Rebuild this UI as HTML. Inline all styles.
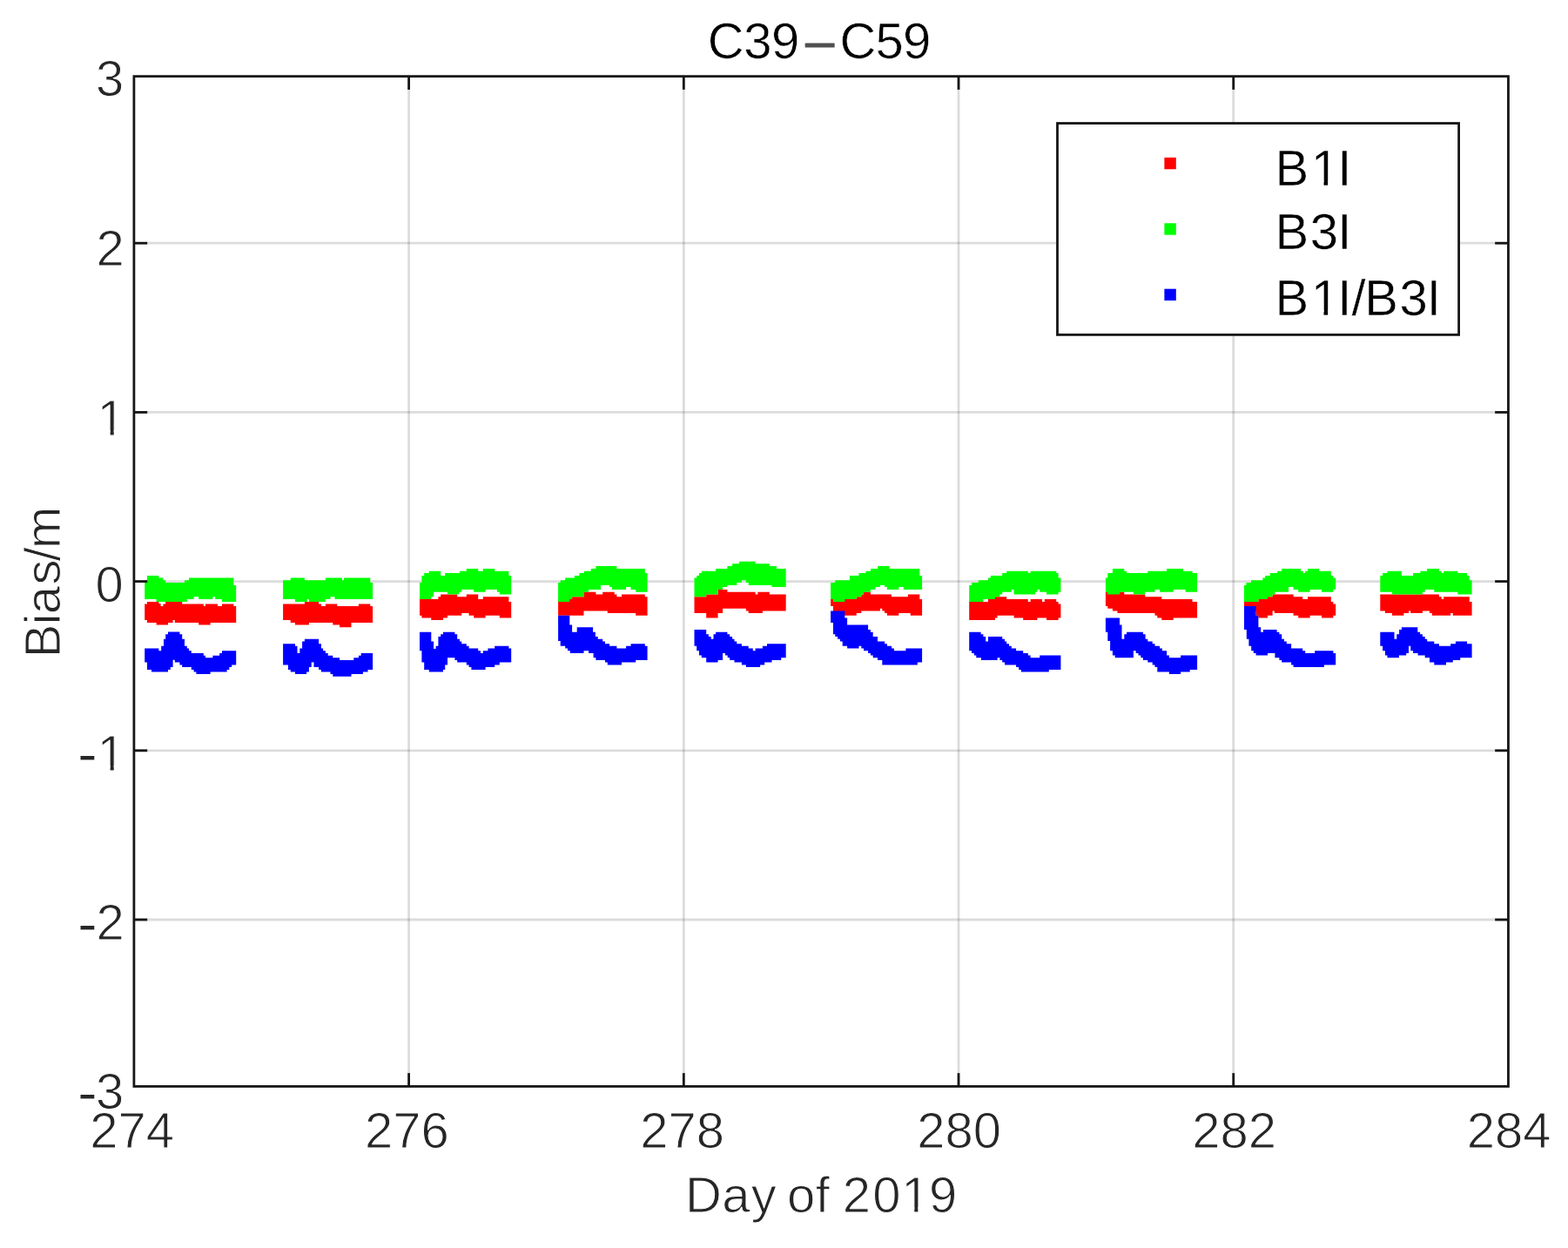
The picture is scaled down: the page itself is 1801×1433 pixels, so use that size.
<!DOCTYPE html>
<html lang="en"><head><meta charset="utf-8"><title>C39-C59</title>
<style>html,body{margin:0;padding:0;background:#fff;}body{width:1801px;height:1433px;overflow:hidden;}svg{display:block;}text{font-family:"Liberation Sans",Arial,Helvetica,sans-serif;white-space:pre;stroke:#fff;stroke-width:1.00px;stroke-linejoin:round;}</style>
</head><body>
<svg width="1801" height="1433" viewBox="0 0 1801 1433">
<rect x="0" y="0" width="1801" height="1433" fill="#ffffff"/>
<g stroke="rgba(38,38,38,0.16)" stroke-width="2.80" fill="none">
<line x1="469.61" y1="87.65" x2="469.61" y2="1247.45"/>
<line x1="785.32" y1="87.65" x2="785.32" y2="1247.45"/>
<line x1="1101.03" y1="87.65" x2="1101.03" y2="1247.45"/>
<line x1="1416.74" y1="87.65" x2="1416.74" y2="1247.45"/>
<line x1="153.90" y1="279.20" x2="1732.45" y2="279.20"/>
<line x1="153.90" y1="473.40" x2="1732.45" y2="473.40"/>
<line x1="153.90" y1="667.60" x2="1732.45" y2="667.60"/>
<line x1="153.90" y1="861.80" x2="1732.45" y2="861.80"/>
<line x1="153.90" y1="1056.00" x2="1732.45" y2="1056.00"/>
</g>
<g>
<path fill="#ff0000" d="M166.2,693.4L169.0,693.4L169.0,690.9L182.4,690.9L182.4,693.1L184.6,693.1L184.6,695.9L187.4,695.9L187.4,693.4L190.2,693.4L190.2,690.9L209.2,690.9L209.2,693.4L233.8,693.4L233.8,695.9L236.0,695.9L236.0,693.4L250.0,693.4L250.0,695.9L255.0,695.9L255.0,693.4L268.4,693.4L268.4,695.9L271.2,695.9L271.2,714.9L241.6,714.9L241.6,717.6L228.2,717.6L228.2,714.9L200.8,714.9L200.8,712.1L198.6,712.1L198.6,714.9L193.0,714.9L193.0,717.6L179.6,717.6L179.6,714.9L169.0,714.9L169.0,712.1L166.2,712.1Z M325.1,693.4L349.9,693.4L349.9,690.9L366.1,690.9L366.1,693.4L368.9,693.4L368.9,695.9L373.9,695.9L373.9,693.4L387.3,693.4L387.3,695.9L411.9,695.9L411.9,693.4L425.3,693.4L425.3,695.9L428.1,695.9L428.1,714.9L403.5,714.9L403.5,720.2L390.1,720.2L390.1,717.6L382.3,717.6L382.3,714.9L354.9,714.9L354.9,717.6L339.0,717.6L339.0,714.9L333.7,714.9L333.7,712.1L325.1,712.1Z M482.0,688.1L503.4,688.1L503.4,685.3L506.2,685.3L506.2,682.5L525.2,682.5L525.2,685.3L535.8,685.3L535.8,682.5L549.2,682.5L549.2,688.1L554.8,688.1L554.8,685.3L584.4,685.3L584.4,690.9L587.2,690.9L587.2,709.5L573.8,709.5L573.8,706.8L557.6,706.8L557.6,709.5L544.2,709.5L544.2,706.8L538.6,706.8L538.6,704.0L530.2,704.0L530.2,706.8L514.0,706.8L514.0,709.5L509.0,709.5L509.0,712.1L495.3,712.1L495.3,709.5L484.4,709.5L484.4,706.8L482.0,706.8Z M641.1,688.1L654.3,688.1L654.3,688.1L657.1,688.1L657.1,685.3L671.0,685.3L671.0,679.7L684.4,679.7L684.4,682.5L692.2,682.5L692.2,679.7L705.7,679.7L705.7,682.5L708.4,682.5L708.4,685.3L714.0,685.3L714.0,682.5L740.8,682.5L740.8,685.3L743.6,685.3L743.6,706.8L730.2,706.8L730.2,704.0L697.8,704.0L697.8,701.5L670.5,701.5L670.5,706.8L641.1,706.8Z M797.5,685.3L811.2,685.3L811.2,682.5L824.6,682.5L824.6,676.9L835.4,676.9L835.4,679.7L867.6,679.7L867.6,682.5L870.4,682.5L870.4,679.7L883.8,679.7L883.8,682.5L902.7,682.5L902.7,701.5L875.9,701.5L875.9,704.0L859.7,704.0L859.7,701.5L856.9,701.5L856.9,698.7L830.1,698.7L830.1,704.0L824.6,704.0L824.6,709.5L811.2,709.5L811.2,704.0L797.5,704.0Z M954.1,688.1L956.9,688.1L956.9,688.1L970.3,688.1L970.3,688.1L983.7,688.1L983.7,685.3L989.3,685.3L989.3,682.5L992.1,682.5L992.1,679.7L999.9,679.7L999.9,682.5L1023.9,682.5L1023.9,685.3L1042.9,685.3L1042.9,682.5L1056.3,682.5L1056.3,688.1L1059.1,688.1L1059.1,706.8L1045.7,706.8L1045.7,704.0L1032.3,704.0L1032.3,706.8L1018.9,706.8L1018.9,704.0L1016.1,704.0L1016.1,701.5L1013.3,701.5L1013.3,698.7L1011.0,698.7L1011.0,701.5L989.3,701.5L989.3,704.0L983.7,704.0L983.7,706.8L970.3,706.8L970.3,706.8L956.9,706.8L956.9,695.9L954.1,695.9Z M1113.2,690.9L1135.0,690.9L1135.0,688.1L1143.0,688.1L1143.0,685.3L1156.2,685.3L1156.2,688.1L1180.8,688.1L1180.8,690.9L1183.6,690.9L1183.6,688.1L1197.0,688.1L1197.0,690.9L1199.8,690.9L1199.8,688.1L1213.2,688.1L1213.2,690.9L1215.6,690.9L1215.6,693.4L1218.4,693.4L1218.4,709.5L1215.6,709.5L1215.6,712.1L1202.0,712.1L1202.0,709.5L1191.4,709.5L1191.4,712.1L1175.2,712.1L1175.2,709.5L1164.6,709.5L1164.6,706.8L1145.6,706.8L1145.6,709.5L1143.0,709.5L1143.0,712.1L1113.2,712.1Z M1269.9,679.7L1272.3,679.7L1272.3,679.7L1286.3,679.7L1286.3,679.7L1291.3,679.7L1291.3,682.5L1315.3,682.5L1315.3,685.3L1334.3,685.3L1334.3,688.1L1369.5,688.1L1369.5,690.9L1375.1,690.9L1375.1,709.5L1347.7,709.5L1347.7,712.1L1334.3,712.1L1334.3,709.5L1329.3,709.5L1329.3,706.8L1326.5,706.8L1326.5,704.0L1283.5,704.0L1283.5,701.5L1277.9,701.5L1277.9,698.7L1272.3,698.7L1272.3,695.9L1269.9,695.9Z M1429.0,690.9L1445.4,690.9L1445.4,688.1L1456.0,688.1L1456.0,685.3L1461.6,685.3L1461.6,682.5L1485.6,682.5L1485.6,685.3L1496.2,685.3L1496.2,688.1L1502.0,688.1L1502.0,685.3L1528.8,685.3L1528.8,690.9L1531.4,690.9L1531.4,693.4L1534.2,693.4L1534.2,706.8L1531.4,706.8L1531.4,709.5L1518.0,709.5L1518.0,706.8L1504.6,706.8L1504.6,709.5L1491.2,709.5L1491.2,706.8L1485.6,706.8L1485.6,704.0L1463.8,704.0L1463.8,701.5L1461.6,701.5L1461.6,706.8L1456.0,706.8L1456.0,709.5L1445.4,709.5L1445.4,706.8L1442.6,706.8L1442.6,701.5L1429.0,701.5Z M1585.3,682.5L1652.9,682.5L1652.9,685.3L1655.7,685.3L1655.7,688.1L1658.2,688.1L1658.2,685.3L1687.8,685.3L1687.8,690.9L1690.6,690.9L1690.6,706.8L1668.8,706.8L1668.8,704.0L1666.1,704.0L1666.1,706.8L1644.8,706.8L1644.8,704.0L1642.0,704.0L1642.0,701.5L1633.9,701.5L1633.9,704.0L1620.3,704.0L1620.3,701.5L1618.0,701.5L1618.0,704.0L1612.4,704.0L1612.4,706.8L1599.0,706.8L1599.0,704.0L1590.9,704.0L1590.9,701.5L1585.3,701.5Z"/>
<path fill="#00ff00" d="M166.2,666.3L169.0,666.3L169.0,661.0L182.4,661.0L182.4,663.5L187.4,663.5L187.4,666.3L190.2,666.3L190.2,669.1L212.0,669.1L212.0,666.3L217.0,666.3L217.0,663.5L268.4,663.5L268.4,671.9L271.2,671.9L271.2,690.9L255.0,690.9L255.0,688.1L247.2,688.1L247.2,685.3L244.4,685.3L244.4,688.1L228.2,688.1L228.2,685.3L222.6,685.3L222.6,688.1L214.8,688.1L214.8,690.9L179.6,690.9L179.6,688.1L166.2,688.1Z M325.1,666.3L333.7,666.3L333.7,663.5L349.9,663.5L349.9,666.3L373.9,666.3L373.9,663.5L392.9,663.5L392.9,666.3L395.1,666.3L395.1,663.5L425.3,663.5L425.3,669.1L428.1,669.1L428.1,688.1L384.5,688.1L384.5,685.3L379.5,685.3L379.5,688.1L373.9,688.1L373.9,690.9L354.9,690.9L354.9,688.1L352.7,688.1L352.7,690.9L339.0,690.9L339.0,688.1L325.1,688.1Z M482.0,669.1L484.4,669.1L484.4,661.0L487.2,661.0L487.2,658.1L492.8,658.1L492.8,655.7L506.2,655.7L506.2,661.0L511.2,661.0L511.2,658.1L528.0,658.1L528.0,655.7L535.8,655.7L535.8,652.9L549.2,652.9L549.2,655.7L554.8,655.7L554.8,652.9L568.2,652.9L568.2,655.7L584.4,655.7L584.4,661.0L587.2,661.0L587.2,682.5L573.8,682.5L573.8,679.7L571.0,679.7L571.0,676.9L557.6,676.9L557.6,679.7L544.2,679.7L544.2,676.9L530.2,676.9L530.2,679.7L527.4,679.7L527.4,682.5L514.0,682.5L514.0,679.7L498.1,679.7L498.1,685.3L495.3,685.3L495.3,688.1L482.0,688.1Z M641.1,669.1L643.7,669.1L643.7,666.3L649.2,666.3L649.2,663.5L659.9,663.5L659.9,661.0L665.4,661.0L665.4,658.1L671.0,658.1L671.0,655.7L678.8,655.7L678.8,652.9L684.4,652.9L684.4,650.1L708.4,650.1L708.4,652.9L740.8,652.9L740.8,658.1L743.6,658.1L743.6,679.7L730.2,679.7L730.2,676.9L724.6,676.9L724.6,674.1L719.1,674.1L719.1,676.9L702.9,676.9L702.9,674.1L700.1,674.1L700.1,671.9L690.0,671.9L690.0,676.9L676.1,676.9L676.1,679.7L671.0,679.7L671.0,685.3L657.1,685.3L657.1,688.1L654.3,688.1L654.3,690.9L641.1,690.9Z M797.5,663.5L800.2,663.5L800.2,661.0L803.0,661.0L803.0,658.1L805.8,658.1L805.8,655.7L822.1,655.7L822.1,652.9L835.4,652.9L835.4,650.1L841.1,650.1L841.1,647.3L849.1,647.3L849.1,644.7L867.6,644.7L867.6,647.3L883.8,647.3L883.8,650.1L891.9,650.1L891.9,652.9L902.7,652.9L902.7,674.1L886.5,674.1L886.5,671.9L859.7,671.9L859.7,669.1L856.9,669.1L856.9,666.3L851.9,666.3L851.9,669.1L846.3,669.1L846.3,671.9L835.4,671.9L835.4,674.1L830.1,674.1L830.1,676.9L824.6,676.9L824.6,682.5L811.2,682.5L811.2,685.3L797.5,685.3Z M954.1,669.1L959.3,669.1L959.3,666.3L975.9,666.3L975.9,661.0L986.5,661.0L986.5,658.1L994.5,658.1L994.5,655.7L1000.1,655.7L1000.1,652.9L1008.2,652.9L1008.2,650.1L1021.7,650.1L1021.7,652.9L1056.3,652.9L1056.3,661.0L1059.1,661.0L1059.1,676.9L1037.8,676.9L1037.8,674.1L1032.3,674.1L1032.3,676.9L1018.9,676.9L1018.9,674.1L1016.1,674.1L1016.1,671.9L1011.0,671.9L1011.0,674.1L1005.5,674.1L1005.5,676.9L999.9,676.9L999.9,679.7L992.1,679.7L992.1,682.5L989.3,682.5L989.3,685.3L983.7,685.3L983.7,688.1L970.3,688.1L970.3,690.9L956.9,690.9L956.9,688.1L954.1,688.1Z M1113.2,671.9L1116.0,671.9L1116.0,669.1L1123.8,669.1L1123.8,666.3L1135.0,666.3L1135.0,663.5L1137.8,663.5L1137.8,661.0L1151.2,661.0L1151.2,658.1L1156.2,658.1L1156.2,655.7L1180.8,655.7L1180.8,658.1L1183.6,658.1L1183.6,655.7L1213.2,655.7L1213.2,658.1L1215.6,658.1L1215.6,663.5L1218.4,663.5L1218.4,679.7L1215.6,679.7L1215.6,682.5L1202.0,682.5L1202.0,679.7L1194.2,679.7L1194.2,676.9L1191.4,676.9L1191.4,679.7L1189.1,679.7L1189.1,682.5L1164.6,682.5L1164.6,676.9L1161.8,676.9L1161.8,679.7L1151.2,679.7L1151.2,682.5L1148.4,682.5L1148.4,685.3L1143.0,685.3L1143.0,688.1L1129.4,688.1L1129.4,690.9L1113.2,690.9Z M1269.9,663.5L1272.3,663.5L1272.3,658.1L1277.9,658.1L1277.9,652.9L1291.3,652.9L1291.3,655.7L1294.1,655.7L1294.1,658.1L1318.3,658.1L1318.3,655.7L1340.1,655.7L1340.1,652.9L1358.9,652.9L1358.9,655.7L1369.5,655.7L1369.5,658.1L1375.1,658.1L1375.1,679.7L1361.7,679.7L1361.7,676.9L1347.7,676.9L1347.7,679.7L1332.1,679.7L1332.1,676.9L1326.5,676.9L1326.5,679.7L1315.3,679.7L1315.3,682.5L1301.9,682.5L1301.9,679.7L1291.3,679.7L1291.3,679.7L1286.3,679.7L1286.3,682.5L1272.3,682.5L1272.3,679.7L1269.9,679.7Z M1429.0,671.9L1431.4,671.9L1431.4,669.1L1437.0,669.1L1437.0,666.3L1450.4,666.3L1450.4,663.5L1453.2,663.5L1453.2,661.0L1458.8,661.0L1458.8,658.1L1467.2,658.1L1467.2,655.7L1472.2,655.7L1472.2,652.9L1494.0,652.9L1494.0,655.7L1496.8,655.7L1496.8,658.1L1499.2,658.1L1499.2,655.7L1502.0,655.7L1502.0,652.9L1515.2,652.9L1515.2,655.7L1528.8,655.7L1528.8,661.0L1531.4,661.0L1531.4,663.5L1534.2,663.5L1534.2,676.9L1531.4,676.9L1531.4,679.7L1518.0,679.7L1518.0,676.9L1504.6,676.9L1504.6,679.7L1491.2,679.7L1491.2,676.9L1485.6,676.9L1485.6,674.1L1480.0,674.1L1480.0,679.7L1464.4,679.7L1464.4,682.5L1461.6,682.5L1461.6,685.3L1456.0,685.3L1456.0,688.1L1445.4,688.1L1445.4,690.9L1429.0,690.9Z M1585.3,661.0L1588.1,661.0L1588.1,658.1L1593.5,658.1L1593.5,655.7L1609.9,655.7L1609.9,661.0L1623.1,661.0L1623.1,658.1L1631.4,658.1L1631.4,655.7L1639.2,655.7L1639.2,652.9L1652.9,652.9L1652.9,655.7L1655.7,655.7L1655.7,658.1L1658.2,658.1L1658.2,655.7L1674.4,655.7L1674.4,658.1L1685.0,658.1L1685.0,661.0L1687.8,661.0L1687.8,666.3L1690.6,666.3L1690.6,682.5L1674.4,682.5L1674.4,679.7L1647.3,679.7L1647.3,676.9L1636.7,676.9L1636.7,679.7L1633.9,679.7L1633.9,682.5L1599.0,682.5L1599.0,679.7L1585.3,679.7Z"/>
<path fill="#0000ff" d="M166.2,744.4L182.4,744.4L182.4,747.2L185.2,747.2L185.2,741.7L188.0,741.7L188.0,733.8L190.2,733.8L190.2,728.3L193.0,728.3L193.0,725.5L206.4,725.5L206.4,728.3L209.2,728.3L209.2,733.8L212.0,733.8L212.0,741.7L214.8,741.7L214.8,744.4L217.0,744.4L217.0,747.2L219.8,747.2L219.8,750.0L233.8,750.0L233.8,752.8L236.0,752.8L236.0,755.3L244.4,755.3L244.4,752.8L252.2,752.8L252.2,750.0L255.0,750.0L255.0,747.2L271.2,747.2L271.2,763.4L266.2,763.4L266.2,766.0L263.4,766.0L263.4,769.0L260.6,769.0L260.6,771.6L241.6,771.6L241.6,774.0L225.4,774.0L225.4,771.6L222.6,771.6L222.6,769.0L219.8,769.0L219.8,766.0L209.2,766.0L209.2,763.4L206.4,763.4L206.4,760.6L200.8,760.6L200.8,757.8L198.6,757.8L198.6,766.0L195.8,766.0L195.8,769.0L193.0,769.0L193.0,771.6L174.0,771.6L174.0,769.0L169.0,769.0L169.0,760.6L166.2,760.6Z M325.1,739.2L339.0,739.2L339.0,741.7L341.5,741.7L341.5,750.0L344.3,750.0L344.3,744.4L347.1,744.4L347.1,736.6L349.9,736.6L349.9,733.8L366.1,733.8L366.1,739.2L368.9,739.2L368.9,744.4L371.1,744.4L371.1,747.2L373.9,747.2L373.9,750.0L376.7,750.0L376.7,752.8L382.3,752.8L382.3,755.3L390.1,755.3L390.1,758.1L406.3,758.1L406.3,755.3L411.9,755.3L411.9,752.8L414.7,752.8L414.7,750.0L428.1,750.0L428.1,769.0L422.5,769.0L422.5,771.6L416.9,771.6L416.9,774.0L403.5,774.0L403.5,776.8L382.3,776.8L382.3,774.0L379.5,774.0L379.5,771.6L368.9,771.6L368.9,769.0L366.1,769.0L366.1,766.0L360.5,766.0L360.5,760.6L357.7,760.6L357.7,766.0L354.9,766.0L354.9,771.6L352.1,771.6L352.1,774.0L339.0,774.0L339.0,771.6L333.7,771.6L333.7,769.0L330.9,769.0L330.9,763.4L325.1,763.4Z M482.0,725.7L495.3,725.7L495.3,736.6L498.1,736.6L498.1,745.0L500.6,745.0L500.6,741.7L503.4,741.7L503.4,731.0L506.2,731.0L506.2,728.3L509.0,728.3L509.0,725.7L522.4,725.7L522.4,728.3L525.2,728.3L525.2,733.8L528.0,733.8L528.0,736.6L530.2,736.6L530.2,739.2L535.8,739.2L535.8,741.7L538.6,741.7L538.6,744.4L549.2,744.4L549.2,747.2L552.0,747.2L552.0,750.0L554.8,750.0L554.8,747.2L560.4,747.2L560.4,744.4L568.2,744.4L568.2,741.7L584.4,741.7L584.4,744.4L587.2,744.4L587.2,760.6L573.8,760.6L573.8,763.4L568.2,763.4L568.2,766.0L557.6,766.0L557.6,769.0L541.4,769.0L541.4,766.0L538.6,766.0L538.6,763.4L535.8,763.4L535.8,760.6L525.2,760.6L525.2,758.1L522.4,758.1L522.4,755.3L514.0,755.3L514.0,763.4L511.2,763.4L511.2,769.0L509.0,769.0L509.0,771.6L492.8,771.6L492.8,769.0L487.2,769.0L487.2,760.6L484.4,760.6L484.4,747.2L482.0,747.2Z M641.1,706.8L654.3,706.8L654.3,717.6L657.1,717.6L657.1,725.7L662.7,725.7L662.7,720.2L681.1,720.2L681.1,725.7L683.9,725.7L683.9,731.0L686.7,731.0L686.7,733.8L692.2,733.8L692.2,736.6L695.0,736.6L695.0,739.2L700.1,739.2L700.1,741.7L708.4,741.7L708.4,744.4L719.1,744.4L719.1,741.7L724.6,741.7L724.6,739.2L740.8,739.2L740.8,741.7L743.6,741.7L743.6,758.1L730.2,758.1L730.2,760.6L714.0,760.6L714.0,763.4L697.8,763.4L697.8,760.6L695.0,760.6L695.0,758.1L684.4,758.1L684.4,755.3L681.6,755.3L681.6,750.0L676.1,750.0L676.1,747.2L670.5,747.2L670.5,750.0L654.8,750.0L654.8,747.2L652.0,747.2L652.0,744.4L649.2,744.4L649.2,741.7L643.7,741.7L643.7,736.1L641.1,736.1Z M797.5,722.9L811.2,722.9L811.2,728.3L813.9,728.3L813.9,731.0L816.7,731.0L816.7,733.8L819.5,733.8L819.5,728.3L822.1,728.3L822.1,725.7L835.4,725.7L835.4,728.3L838.2,728.3L838.2,731.0L841.1,731.0L841.1,733.8L843.5,733.8L843.5,736.6L846.3,736.6L846.3,739.2L851.9,739.2L851.9,741.7L859.7,741.7L859.7,744.4L864.8,744.4L864.8,747.2L867.6,747.2L867.6,744.4L875.9,744.4L875.9,741.7L881.0,741.7L881.0,739.2L902.7,739.2L902.7,755.3L897.2,755.3L897.2,758.1L886.5,758.1L886.5,760.6L878.2,760.6L878.2,763.4L873.1,763.4L873.1,766.0L856.9,766.0L856.9,763.4L851.9,763.4L851.9,760.6L843.5,760.6L843.5,758.1L838.2,758.1L838.2,755.3L835.7,755.3L835.7,752.6L832.9,752.6L832.9,750.0L830.1,750.0L830.1,758.1L824.6,758.1L824.6,760.6L811.2,760.6L811.2,755.3L805.8,755.3L805.8,752.6L803.0,752.6L803.0,747.2L800.2,747.2L800.2,741.7L797.5,741.7Z M954.1,701.5L970.3,701.5L970.3,709.5L973.1,709.5L973.1,717.6L997.1,717.6L997.1,722.9L999.9,722.9L999.9,725.7L1002.7,725.7L1002.7,731.0L1008.0,731.0L1008.0,736.6L1016.1,736.6L1016.1,739.2L1018.9,739.2L1018.9,741.7L1024.1,741.7L1024.1,744.4L1026.9,744.4L1026.9,747.2L1040.4,747.2L1040.4,744.4L1059.1,744.4L1059.1,760.6L1053.8,760.6L1053.8,763.4L1013.3,763.4L1013.3,758.1L1008.0,758.1L1008.0,755.3L1002.7,755.3L1002.7,752.6L999.9,752.6L999.9,750.0L997.1,750.0L997.1,747.2L992.1,747.2L992.1,744.4L989.3,744.4L989.3,741.7L986.5,741.7L986.5,744.4L973.1,744.4L973.1,741.7L967.7,741.7L967.7,736.6L964.9,736.6L964.9,733.8L962.1,733.8L962.1,731.0L959.3,731.0L959.3,728.3L956.9,728.3L956.9,714.9L954.1,714.9Z M1113.2,725.7L1126.6,725.7L1126.6,728.3L1129.4,728.3L1129.4,731.0L1132.2,731.0L1132.2,736.6L1135.0,736.6L1135.0,731.0L1151.2,731.0L1151.2,733.8L1154.0,733.8L1154.0,736.6L1156.2,736.6L1156.2,739.2L1159.0,739.2L1159.0,741.7L1161.8,741.7L1161.8,744.4L1167.1,744.4L1167.1,747.2L1175.2,747.2L1175.2,750.0L1180.8,750.0L1180.8,752.6L1183.6,752.6L1183.6,755.3L1194.2,755.3L1194.2,752.6L1218.4,752.6L1218.4,769.0L1204.8,769.0L1204.8,771.6L1172.9,771.6L1172.9,769.0L1170.2,769.0L1170.2,766.0L1167.1,766.0L1167.1,763.4L1154.0,763.4L1154.0,760.6L1151.2,760.6L1151.2,758.1L1148.4,758.1L1148.4,755.3L1145.6,755.3L1145.6,758.1L1126.9,758.1L1126.9,755.3L1121.3,755.3L1121.3,752.6L1118.8,752.6L1118.8,750.0L1116.0,750.0L1116.0,747.2L1113.2,747.2Z M1269.9,709.5L1286.0,709.5L1286.0,717.6L1288.5,717.6L1288.5,733.8L1291.3,733.8L1291.3,728.3L1294.1,728.3L1294.1,725.7L1312.9,725.7L1312.9,728.3L1315.6,728.3L1315.6,733.8L1318.3,733.8L1318.3,736.6L1323.7,736.6L1323.7,739.2L1326.5,739.2L1326.5,741.7L1332.1,741.7L1332.1,744.4L1334.9,744.4L1334.9,747.2L1340.1,747.2L1340.1,752.6L1342.9,752.6L1342.9,755.3L1356.1,755.3L1356.1,752.6L1375.1,752.6L1375.1,769.0L1366.7,769.0L1366.7,771.6L1356.1,771.6L1356.1,774.0L1342.9,774.0L1342.9,771.6L1329.3,771.6L1329.3,766.0L1326.5,766.0L1326.5,763.4L1323.7,763.4L1323.7,760.6L1318.3,760.6L1318.3,758.1L1312.9,758.1L1312.9,755.3L1310.3,755.3L1310.3,752.6L1307.5,752.6L1307.5,750.0L1304.7,750.0L1304.7,747.2L1301.9,747.2L1301.9,755.3L1280.7,755.3L1280.7,752.6L1277.9,752.6L1277.9,747.2L1275.1,747.2L1275.1,736.1L1272.3,736.1L1272.3,725.7L1269.9,725.7Z M1429.0,695.9L1442.6,695.9L1442.6,706.8L1445.4,706.8L1445.4,720.2L1448.2,720.2L1448.2,725.7L1451.0,725.7L1451.0,722.9L1466.6,722.9L1466.6,725.7L1469.4,725.7L1469.4,728.3L1472.2,728.3L1472.2,733.8L1475.0,733.8L1475.0,736.6L1477.8,736.6L1477.8,739.2L1483.1,739.2L1483.1,744.4L1496.2,744.4L1496.2,747.2L1499.2,747.2L1499.2,750.0L1510.2,750.0L1510.2,747.2L1531.4,747.2L1531.4,750.0L1534.2,750.0L1534.2,763.4L1520.8,763.4L1520.8,766.0L1485.6,766.0L1485.6,763.4L1483.1,763.4L1483.1,760.6L1472.2,760.6L1472.2,758.1L1469.4,758.1L1469.4,755.3L1464.4,755.3L1464.4,750.0L1456.0,750.0L1456.0,752.6L1442.6,752.6L1442.6,750.0L1439.8,750.0L1439.8,747.2L1437.2,747.2L1437.2,741.7L1434.4,741.7L1434.4,733.8L1431.8,733.8L1431.8,722.9L1429.0,722.9Z M1585.3,725.7L1601.5,725.7L1601.5,733.8L1604.3,733.8L1604.3,728.3L1607.1,728.3L1607.1,722.9L1609.9,722.9L1609.9,720.2L1628.3,720.2L1628.3,725.7L1631.1,725.7L1631.1,728.3L1633.9,728.3L1633.9,731.0L1636.7,731.0L1636.7,733.8L1639.2,733.8L1639.2,736.6L1647.3,736.6L1647.3,739.2L1652.9,739.2L1652.9,741.7L1666.1,741.7L1666.1,739.2L1671.9,739.2L1671.9,736.6L1685.0,736.6L1685.0,739.2L1690.6,739.2L1690.6,755.3L1677.2,755.3L1677.2,758.1L1668.8,758.1L1668.8,760.6L1661.0,760.6L1661.0,763.4L1647.3,763.4L1647.3,760.6L1642.0,760.6L1642.0,755.3L1636.7,755.3L1636.7,752.6L1628.6,752.6L1628.6,750.0L1623.1,750.0L1623.1,747.2L1620.3,747.2L1620.3,741.7L1618.0,741.7L1618.0,750.0L1615.2,750.0L1615.2,752.6L1606.9,752.6L1606.9,755.3L1593.5,755.3L1593.5,752.6L1590.9,752.6L1590.9,747.2L1588.1,747.2L1588.1,741.7L1585.3,741.7Z"/>
</g>
<g stroke="#161616" stroke-width="2.80" fill="none" stroke-linecap="butt">
<rect x="153.90" y="87.65" width="1578.55" height="1159.80"/>
<line x1="469.61" y1="1247.45" x2="469.61" y2="1232.15"/>
<line x1="469.61" y1="87.65" x2="469.61" y2="102.95"/>
<line x1="785.32" y1="1247.45" x2="785.32" y2="1232.15"/>
<line x1="785.32" y1="87.65" x2="785.32" y2="102.95"/>
<line x1="1101.03" y1="1247.45" x2="1101.03" y2="1232.15"/>
<line x1="1101.03" y1="87.65" x2="1101.03" y2="102.95"/>
<line x1="1416.74" y1="1247.45" x2="1416.74" y2="1232.15"/>
<line x1="1416.74" y1="87.65" x2="1416.74" y2="102.95"/>
<line x1="153.90" y1="279.20" x2="169.20" y2="279.20"/>
<line x1="1732.45" y1="279.20" x2="1717.15" y2="279.20"/>
<line x1="153.90" y1="473.40" x2="169.20" y2="473.40"/>
<line x1="1732.45" y1="473.40" x2="1717.15" y2="473.40"/>
<line x1="153.90" y1="667.60" x2="169.20" y2="667.60"/>
<line x1="1732.45" y1="667.60" x2="1717.15" y2="667.60"/>
<line x1="153.90" y1="861.80" x2="169.20" y2="861.80"/>
<line x1="1732.45" y1="861.80" x2="1717.15" y2="861.80"/>
<line x1="153.90" y1="1056.00" x2="169.20" y2="1056.00"/>
<line x1="1732.45" y1="1056.00" x2="1717.15" y2="1056.00"/>
</g>
<text x="103.21 135.47 167.73" y="1318.40" font-size="58.00" fill="#262626">274</text>
<text x="418.92 451.18 483.44" y="1318.40" font-size="58.00" fill="#262626">276</text>
<text x="735.13 767.39 799.65" y="1318.40" font-size="58.00" fill="#262626">278</text>
<text x="1053.34 1085.60 1117.86" y="1318.40" font-size="58.00" fill="#262626">280</text>
<text x="1369.25 1401.51 1433.77" y="1318.40" font-size="58.00" fill="#262626">282</text>
<text x="1684.76 1717.02 1749.28" y="1318.40" font-size="58.00" fill="#262626">284</text>
<text x="110.04" y="110.30" font-size="58.00" fill="#262626">3</text>
<text x="110.44" y="305.30" font-size="58.00" fill="#262626">2</text>
<text x="111.54" y="499.70" font-size="58.00" fill="#262626">1</text><rect x="114.16" y="494.07" width="12.47" height="6.63" fill="#fff"/><rect x="130.75" y="494.07" width="12.01" height="6.63" fill="#fff"/>
<text x="109.54" y="691.40" font-size="58.00" fill="#262626">0</text>
<text fill="#262626"><tspan x="88.69" y="889.10" font-size="70.00" style="stroke-width:1.2px">-</tspan><tspan x="111.54" y="884.50" font-size="58.00">1</tspan></text>
<rect x="114.16" y="878.87" width="12.47" height="6.63" fill="#fff"/><rect x="130.75" y="878.87" width="12.01" height="6.63" fill="#fff"/>
<text fill="#262626"><tspan x="88.69" y="1083.70" font-size="70.00" style="stroke-width:1.2px">-</tspan><tspan x="110.44" y="1079.10" font-size="58.00">2</tspan></text>
<text fill="#262626"><tspan x="88.69" y="1277.80" font-size="70.00" style="stroke-width:1.2px">-</tspan><tspan x="110.04" y="1273.20" font-size="58.00">3</tspan></text>
<text x="787.04 829.24 862.66 890.00 904.06 936.78 890.00 967.68 1002.33 1035.18 1066.98" y="1391.80" font-size="58.00" fill="#262626">Day of 2019</text><rect x="1037.80" y="1386.17" width="12.47" height="6.63" fill="#fff"/><rect x="1054.39" y="1386.17" width="12.01" height="6.63" fill="#fff"/>
<g transform="translate(69.30,668.00) rotate(-90)"><text x="-87.13 -49.34 -37.36 -3.60 23.40 37.92" y="0.00" font-size="58.00" fill="#262626">Bias/m</text></g>
<text y="66.90" font-size="58.00" fill="#000000" style="stroke-width:0.60px"><tspan x="812.75 854.29 886.08">C39</tspan><tspan x="925.20" y="66.60" font-size="59.00" fill="#505050" style="stroke:#505050;stroke-width:1.2px">–</tspan><tspan x="964.45 1005.48 1036.98" y="66.90">C59</tspan></text>
<rect x="1214.50" y="141.55" width="461.10" height="242.85" fill="#ffffff" stroke="#161616" stroke-width="2.80"/>
<rect x="1337.40" y="180.90" width="13.4" height="13.4" fill="#ff0000"/>
<text x="1464.44 1505.70 1536.35" y="213.30" font-size="58.00" fill="#000000" style="stroke-width:0.50px">B1I</text><rect x="1508.57" y="207.92" width="11.97" height="6.13" fill="#fff"/><rect x="1525.16" y="207.92" width="11.51" height="6.13" fill="#fff"/>
<rect x="1337.40" y="256.30" width="13.4" height="13.4" fill="#00ff00"/>
<text x="1464.44 1504.69 1536.35" y="285.80" font-size="58.00" fill="#000000" style="stroke-width:0.50px">B3I</text>
<rect x="1337.40" y="331.70" width="13.4" height="13.4" fill="#0000ff"/>
<text x="1464.44 1505.70 1536.35 1552.60 1567.14 1607.39 1638.75" y="361.50" font-size="58.00" fill="#000000" style="stroke-width:0.50px">B1I/B3I</text><rect x="1508.57" y="356.12" width="11.97" height="6.13" fill="#fff"/><rect x="1525.16" y="356.12" width="11.51" height="6.13" fill="#fff"/>
</svg>
</body></html>
